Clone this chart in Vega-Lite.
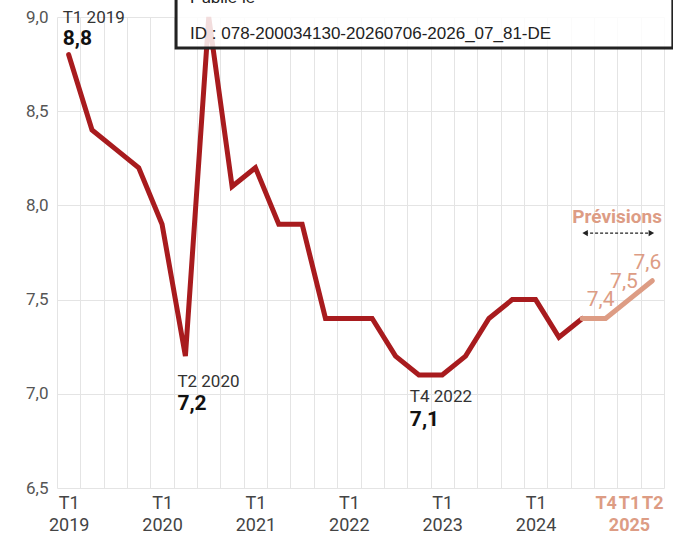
{
  "$schema": "https://vega.github.io/schema/vega-lite/v6.json",
  "width": 607,
  "height": 471,
  "autosize": {"type": "none"},
  "padding": {"left": 57, "top": 17, "right": 9, "bottom": 47},
  "config": {
    "view": {"stroke": null},
    "font": "Roboto",
    "locale": {"number": {"decimal": ",", "thousands": " ", "grouping": [3], "currency": ["", " €"]}}
  },
  "datasets": {
    "taux": [
      {"i": 0, "q": "T1 2019", "v": 8.8, "s": "obs"},
      {"i": 1, "q": "T2 2019", "v": 8.4, "s": "obs"},
      {"i": 2, "q": "T3 2019", "v": 8.3, "s": "obs"},
      {"i": 3, "q": "T4 2019", "v": 8.2, "s": "obs"},
      {"i": 4, "q": "T1 2020", "v": 7.9, "s": "obs"},
      {"i": 5, "q": "T2 2020", "v": 7.2, "s": "obs"},
      {"i": 6, "q": "T3 2020", "v": 9.0, "s": "obs"},
      {"i": 7, "q": "T4 2020", "v": 8.1, "s": "obs"},
      {"i": 8, "q": "T1 2021", "v": 8.2, "s": "obs"},
      {"i": 9, "q": "T2 2021", "v": 7.9, "s": "obs"},
      {"i": 10, "q": "T3 2021", "v": 7.9, "s": "obs"},
      {"i": 11, "q": "T4 2021", "v": 7.4, "s": "obs"},
      {"i": 12, "q": "T1 2022", "v": 7.4, "s": "obs"},
      {"i": 13, "q": "T2 2022", "v": 7.4, "s": "obs"},
      {"i": 14, "q": "T3 2022", "v": 7.2, "s": "obs"},
      {"i": 15, "q": "T4 2022", "v": 7.1, "s": "obs"},
      {"i": 16, "q": "T1 2023", "v": 7.1, "s": "obs"},
      {"i": 17, "q": "T2 2023", "v": 7.2, "s": "obs"},
      {"i": 18, "q": "T3 2023", "v": 7.4, "s": "obs"},
      {"i": 19, "q": "T4 2023", "v": 7.5, "s": "obs"},
      {"i": 20, "q": "T1 2024", "v": 7.5, "s": "obs"},
      {"i": 21, "q": "T2 2024", "v": 7.3, "s": "obs"},
      {"i": 22, "q": "T3 2024", "v": 7.4, "s": "obs"},
      {"i": 22, "q": "T3 2024", "v": 7.4, "s": "prev"},
      {"i": 23, "q": "T4 2024", "v": 7.4, "s": "prev"},
      {"i": 24, "q": "T1 2025", "v": 7.5, "s": "prev"},
      {"i": 25, "q": "T2 2025", "v": 7.6, "s": "prev"}
    ],
    "notes": [
      {"t": "Prévisions", "i": 25.5, "v": 7.938},
      {"t": "Publié le", "i": 5.2, "v": 9.1},
      {"t": "ID : 078-200034130-20260706-2026_07_81-DE", "i": 5.2, "v": 8.91}
    ],
    "fleche": [
      {"i": 22.12, "i2": 24.96, "v": 7.853}
    ],
    "cadre": [
      {"i": 4.6, "i2": 25.88, "v": 8.835, "v2": 9.3}
    ]
  },
  "encoding": {
    "x": {
      "field": "i",
      "type": "quantitative",
      "scale": {"domain": [-0.5, 25.5], "nice": false, "zero": false},
      "axis": {
        "title": null,
        "orient": "bottom",
        "values": [-0.5, 0, 0.5, 1, 1.5, 2, 2.5, 3, 3.5, 4, 4.5, 5, 5.5, 6, 6.5, 7, 7.5, 8, 8.5, 9, 9.5, 10, 10.5, 11, 11.5, 12, 12.5, 13, 13.5, 14, 14.5, 15, 15.5, 16, 16.5, 17, 17.5, 18, 18.5, 19, 19.5, 20, 20.5, 21, 21.5, 22, 22.5, 23, 23.5, 24, 24.5, 25, 25.5],
        "grid": true,
        "gridColor": {"condition": {"test": "datum.value % 1 != 0", "value": "#e4e4e4"}, "value": "transparent"},
        "gridWidth": 1,
        "ticks": false,
        "domain": false,
        "labelOverlap": false,
        "labelBound": false,
        "labelFlush": false,
        "labelPadding": 6,
        "labelFontSize": 18,
        "labelLineHeight": 22,
        "labelBaseline": "top",
        "labelColor": {"condition": {"test": "datum.value >= 23", "value": "#dd9c84"}, "value": "#444444"},
        "labelFontWeight": {"condition": {"test": "datum.value >= 23", "value": "bold"}, "value": "normal"},
        "labelExpr": "datum.value == 0 ? ['T1','2019'] : datum.value == 4 ? ['T1','2020'] : datum.value == 8 ? ['T1','2021'] : datum.value == 12 ? ['T1','2022'] : datum.value == 16 ? ['T1','2023'] : datum.value == 20 ? ['T1','2024'] : datum.value == 23 ? 'T4' : datum.value == 24 ? ['T1','2025'] : datum.value == 25 ? 'T2' : ''"
      }
    },
    "y": {
      "field": "v",
      "type": "quantitative",
      "scale": {"domain": [6.5, 9.0], "nice": false, "zero": false},
      "axis": {
        "title": null,
        "values": [6.5, 7.0, 7.5, 8.0, 8.5, 9.0],
        "format": ".1f",
        "grid": true,
        "gridColor": "#e4e4e4",
        "ticks": false,
        "domain": false,
        "labelPadding": 9,
        "labelFontSize": 17,
        "labelColor": "#555555"
      }
    }
  },
  "layer": [
    {
      "data": {"name": "taux"},
      "mark": {"type": "line", "strokeWidth": 5, "strokeCap": "round"},
      "encoding": {
        "color": {"field": "s", "type": "nominal", "scale": {"domain": ["obs", "prev"], "range": ["#a81b1e", "#dd9c84"]}, "legend": null}
      }
    },
    {
      "data": {"name": "taux"},
      "transform": [{"filter": "datum.i == 0"}],
      "mark": {"type": "text", "align": "left", "baseline": "middle", "dx": -6, "dy": -37, "fontSize": 17, "color": "#333333"},
      "encoding": {"text": {"field": "q"}}
    },
    {
      "data": {"name": "taux"},
      "transform": [{"filter": "datum.i == 0"}],
      "mark": {"type": "text", "align": "left", "baseline": "middle", "dx": -6, "dy": -16, "fontSize": 21, "fontWeight": "bold", "color": "#111111"},
      "encoding": {"text": {"field": "v", "type": "quantitative", "format": ".1f"}}
    },
    {
      "data": {"name": "taux"},
      "transform": [{"filter": "datum.i == 5"}],
      "mark": {"type": "text", "align": "left", "baseline": "middle", "dx": -8, "dy": 26, "fontSize": 17, "color": "#333333"},
      "encoding": {"text": {"field": "q"}}
    },
    {
      "data": {"name": "taux"},
      "transform": [{"filter": "datum.i == 5"}],
      "mark": {"type": "text", "align": "left", "baseline": "middle", "dx": -8, "dy": 48, "fontSize": 21, "fontWeight": "bold", "color": "#111111"},
      "encoding": {"text": {"field": "v", "type": "quantitative", "format": ".1f"}}
    },
    {
      "data": {"name": "taux"},
      "transform": [{"filter": "datum.i == 15"}],
      "mark": {"type": "text", "align": "left", "baseline": "middle", "dx": -9, "dy": 22, "fontSize": 17, "color": "#333333"},
      "encoding": {"text": {"field": "q"}}
    },
    {
      "data": {"name": "taux"},
      "transform": [{"filter": "datum.i == 15"}],
      "mark": {"type": "text", "align": "left", "baseline": "middle", "dx": -9, "dy": 45, "fontSize": 21, "fontWeight": "bold", "color": "#111111"},
      "encoding": {"text": {"field": "v", "type": "quantitative", "format": ".1f"}}
    },
    {
      "data": {"name": "taux"},
      "transform": [{"filter": "datum.s == 'prev' && datum.i > 22"}],
      "mark": {"type": "text", "align": "center", "baseline": "middle", "dx": -5, "dy": -18, "fontSize": 21, "color": "#dd9c84"},
      "encoding": {"text": {"field": "v", "type": "quantitative", "format": ".1f"}}
    },
    {
      "data": {"name": "notes"},
      "transform": [{"filter": "datum.t == 'Prévisions'"}],
      "mark": {"type": "text", "align": "right", "baseline": "middle", "dx": -2, "fontSize": 19, "fontWeight": "bold", "color": "#dd9c84"},
      "encoding": {"text": {"field": "t"}}
    },
    {
      "data": {"name": "fleche"},
      "mark": {"type": "rule", "strokeDash": [3, 2], "strokeWidth": 1.2, "color": "#222222"},
      "encoding": {"x2": {"field": "i2"}}
    },
    {
      "data": {"name": "fleche"},
      "mark": {"type": "point", "shape": "triangle-left", "filled": true, "size": 40, "color": "#222222", "opacity": 1},
      "encoding": {}
    },
    {
      "data": {"name": "fleche"},
      "mark": {"type": "point", "shape": "triangle-right", "filled": true, "size": 40, "color": "#222222", "opacity": 1},
      "encoding": {"x": {"field": "i2", "type": "quantitative"}}
    },
    {
      "data": {"name": "cadre"},
      "mark": {"type": "rect", "fill": "#ffffff", "fillOpacity": 0.85, "stroke": "#222222", "strokeWidth": 3},
      "encoding": {"x2": {"field": "i2"}, "y2": {"field": "v2"}}
    },
    {
      "data": {"name": "notes"},
      "transform": [{"filter": "datum.t != 'Prévisions'"}],
      "mark": {"type": "text", "align": "left", "baseline": "middle", "font": "Liberation Sans", "fontSize": 17, "color": "#222222"},
      "encoding": {"text": {"field": "t"}}
    }
  ]
}
